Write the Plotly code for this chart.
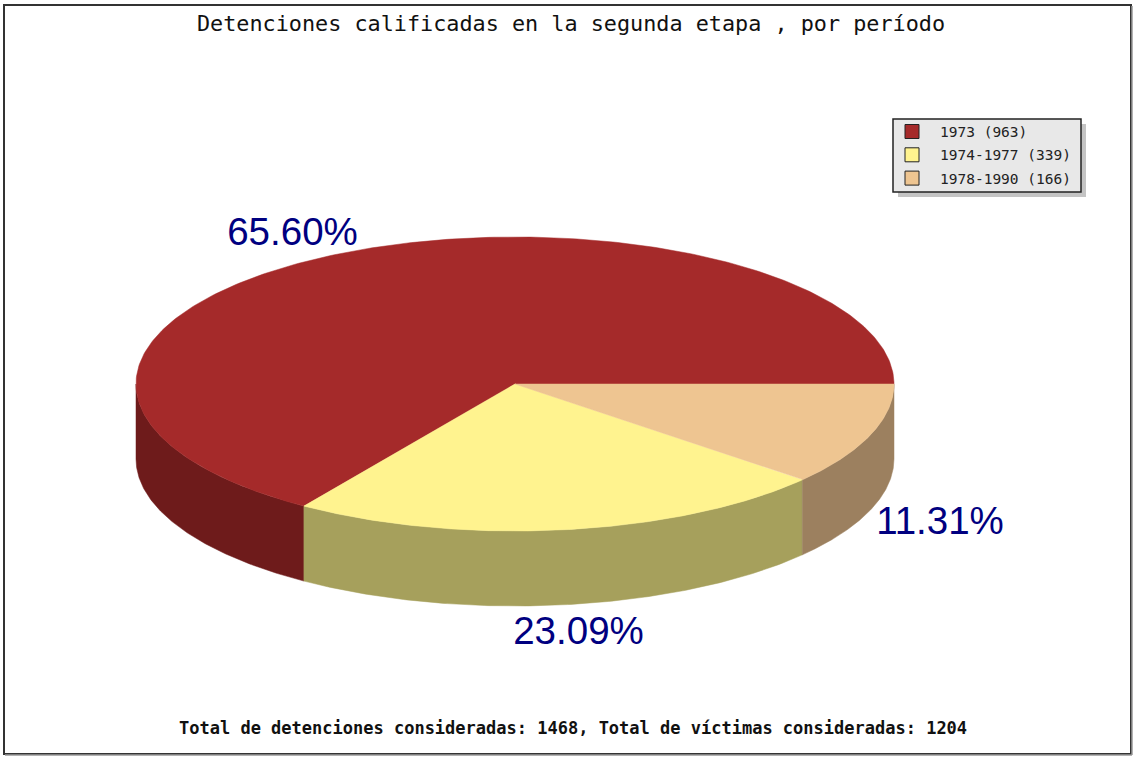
import numpy as np
import plotly.graph_objects as go

W, H = 1135, 757

# Data
periods = ["1973", "1974-1977", "1978-1990"]
counts = [963, 339, 166]
title_text = "Detenciones calificadas en la segunda etapa , por período"
footer_text = "Total de detenciones consideradas: 1468, Total de víctimas consideradas: 1204"

# Styles
top_colors = ["#A52A2A", "#FFF38F", "#EEC591"]
side_colors = ["#6E1B1B", "#A6A05C", "#9C805F"]
LABEL_COLOR = "#000080"
MONO = "DejaVu Sans Mono, monospace"

# Pie geometry (pixel space of the hidden axes)
CX, CY, RX, RY, DEPTH = 515, 384, 379, 147, 75


def ellipse(a_deg, dy=0.0):
    a = np.radians(a_deg)
    return CX + RX * np.cos(a), CY - RY * np.sin(a) + dy


fig = go.Figure()


def poly(xs, ys, color, name):
    fig.add_trace(go.Scatter(x=xs, y=ys, mode="lines", fill="toself", fillcolor=color,
                             line=dict(color=color, width=0.5), hoverinfo="name",
                             name=name, showlegend=False))


total = sum(counts)
edges = np.concatenate([[0.0], np.cumsum(counts) / total * 360.0])

# Side walls: only the front half of the rim is visible
for i, p in enumerate(periods):
    lo, hi = max(edges[i], 180.0), min(edges[i + 1], 360.0)
    if hi <= lo:
        continue
    ang = np.linspace(lo, hi, 160)
    x1, y1 = ellipse(ang)
    x2, y2 = ellipse(ang[::-1], DEPTH)
    poly(np.r_[x1, x2, x1[0]], np.r_[y1, y2, y1[0]], side_colors[i], p + " lado")

# Top faces
for i, p in enumerate(periods):
    ang = np.linspace(edges[i], edges[i + 1], 300)
    x, y = ellipse(ang)
    poly(np.r_[CX, x, CX], np.r_[CY, y, CY], top_colors[i], p)

# Percent labels
label_xy = [(292.5, 235), (578.5, 634), (940, 524)]
for c, (lx, ly) in zip(counts, label_xy):
    fig.add_trace(go.Scatter(x=[lx], y=[ly], mode="text", text=[f"{c / total * 100:.2f}%"],
                             textposition="middle center", showlegend=False, hoverinfo="skip",
                             textfont=dict(family="Liberation Sans, Arial, sans-serif",
                                           size=38.5, color=LABEL_COLOR)))

# Legend contents
for i, (p, c) in enumerate(zip(periods, counts)):
    yy = 131.5 + i * 23.3
    fig.add_trace(go.Scatter(x=[912], y=[yy], mode="markers", showlegend=False, hoverinfo="skip",
                             marker=dict(symbol="square", size=14, color=top_colors[i],
                                         line=dict(color="#222222", width=1))))
    fig.add_trace(go.Scatter(x=[940], y=[yy + 2], mode="text", text=[f"{p} ({c})"],
                             textposition="middle right", showlegend=False, hoverinfo="skip",
                             textfont=dict(family=MONO, size=14.5, color="#222222")))

shapes = [
    dict(type="rect", x0=4, y0=5, x1=1131, y1=754, line=dict(color="#333333", width=2),
         fillcolor="white", layer="below"),
    dict(type="line", x0=1132, y0=6, x1=1132, y1=755, line=dict(color="#999999", width=1.5), layer="below"),
    dict(type="line", x0=5, y0=755, x1=1132, y1=755, line=dict(color="#999999", width=1.5), layer="below"),
    dict(type="rect", x0=898, y0=124, x1=1086, y1=197, line=dict(width=0), fillcolor="#C4C4C4", layer="below"),
    dict(type="rect", x0=893, y0=119, x1=1081, y1=192, line=dict(color="#222222", width=1.5),
         fillcolor="#E8E8E8", layer="below"),
]

annotations = [
    dict(x=571, y=23.5, text=title_text, showarrow=False, xref="x", yref="y",
         font=dict(family=MONO, size=21.8, color="#111111")),
    dict(x=573, y=728, text=f"<b>{footer_text}</b>", showarrow=False, xref="x", yref="y",
         font=dict(family=MONO, size=17, color="#111111")),
]

fig.update_layout(
    width=W, height=H, margin=dict(l=0, r=0, t=0, b=0), autosize=False,
    paper_bgcolor="white", plot_bgcolor="white", showlegend=False,
    shapes=shapes, annotations=annotations,
    xaxis=dict(range=[0, W], visible=False, fixedrange=True),
    yaxis=dict(range=[H, 0], visible=False, fixedrange=True),
)
fig.write_html("out.html", config=dict(displayModeBar=False),
               post_script="document.body.style.margin='0';document.body.style.overflow='hidden';")
